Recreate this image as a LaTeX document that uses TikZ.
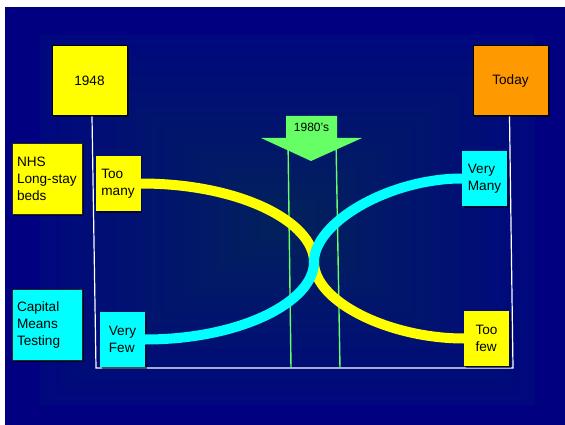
\documentclass[tikz,border=0pt]{standalone}
\usepackage{fontspec}
\setmainfont{Liberation Sans}
\definecolor{navy}{RGB}{0,0,128}
\definecolor{bgedge}{RGB}{0,8,126}
\definecolor{bgmid}{RGB}{2,34,90}
\definecolor{boxyellow}{RGB}{255,255,0}
\definecolor{boxorange}{RGB}{255,153,0}
\definecolor{boxcyan}{RGB}{0,255,255}
\definecolor{eragreen}{RGB}{102,255,102}
\begin{document}
\begin{tikzpicture}[x=1pt,y=-1pt,
  shadowed/.style={preaction={fill=black, opacity=0.55,
    transform canvas={xshift=1.5pt, yshift=-1.5pt}}},
  box/.style={inner sep=0pt, align=left, text=black, shadowed,
    font=\fontsize{13.6}{17}\selectfont},
  yearbox/.style={box, draw=black, line width=1pt,
    minimum width=75pt, minimum height=70pt},
  sidebox/.style={box, draw=black!85, line width=0.8pt,
    text width=60pt, inner xsep=5pt, minimum height=71pt},
  tagbox/.style={box, minimum width=45pt, minimum height=55pt},
  band/.style={line width=10pt},
  axis/.style={draw=white, line width=1.2pt},
  eraline/.style={draw=eragreen, line width=1.4pt}]

% page and stepped background
\useasboundingbox (0,0) rectangle (565,425);
\fill[white] (0,0) rectangle (565,425);
\fill[navy] (5,7) rectangle (565,425);
\foreach \i in {0,...,35}{
  \pgfmathsetmacro\f{\i/36}
  \pgfmathsetmacro\p{100*\f}
  \colorlet{stepc}{bgmid!\p!bgedge}
  \fill[stepc] (40+247.5*\f, 35+185*\f) rectangle (535-247.5*\f, 405-185*\f);
}

% year boxes
\node[yearbox, fill=boxyellow] (y1948) at (89.5,81) {1948};
\node[yearbox, fill=boxorange] (today) at (510.5,81) {Today};

% side legend boxes
\node[sidebox, fill=boxyellow] (nhs) at (47,178.5) {NHS\\Long-stay\\beds};
\node[sidebox, fill=boxcyan] (cmt) at (47,324.5) {Capital\\Means\\Testing};

% time axis frame
\coordinate (axbl) at (96,368);
\coordinate (axbr) at (513,368);
\draw[axis] ([xshift=2.5pt]y1948.south) -- (axbl) -- (axbr) -- ([xshift=-1pt]today.south);

% 1980's period markers
\coordinate (g1t) at (288,140);
\coordinate (g1b) at (291,368);
\coordinate (g2t) at (336,140);
\coordinate (g2b) at (340,368);
\draw[eraline] (g1t) -- (g1b);
\draw[eraline] (g2t) -- (g2b);
\fill[eragreen] (286,116) -- (337,116) -- (337,138) -- (362,138)
  -- (311,161) -- (261,138) -- (286,138) -- cycle;
\node[font=\fontsize{12}{14}\selectfont, text=black] (era) at (311.5,127) {1980’s};

% level tags
\node[tagbox, fill=boxyellow] (toomany) at (118,183.5) {Too\\many};
\node[tagbox, fill=boxcyan] (veryfew) at (122.5,339.5) {Very\\Few};
\node[tagbox, fill=boxcyan] (verymany) at (484.5,178.5) {Very\\Many};
\node[tagbox, fill=boxyellow] (toofew) at (486.5,338.5) {Too\\few};

% trend bands crossing in the 1980's
\coordinate (mid) at (314,262);
\draw[band, boxyellow] (toomany.east) .. controls (240,183.5) and (314,222) .. (mid)
  .. controls (314,302) and (390,338.5) .. (toofew.west);
\draw[band, boxcyan] (veryfew.east) .. controls (240,339.5) and (314,302) .. (mid)
  .. controls (314,222) and (390,178.5) .. (verymany.west);
\end{tikzpicture}
\end{document}
